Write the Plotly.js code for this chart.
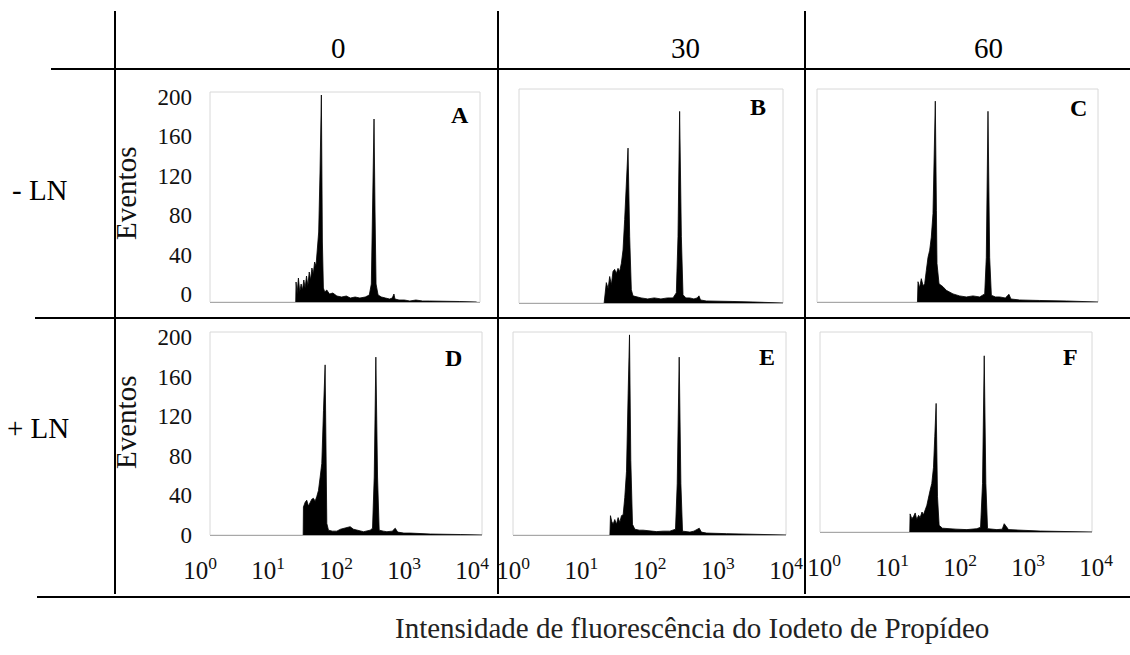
<!DOCTYPE html>
<html>
<head>
<meta charset="utf-8">
<script src="https://cdn.plot.ly/plotly-3.0.1.min.js"></script>
<style>html,body{margin:0;padding:0;background:#fff;}#chart{width:1130px;height:655px;}</style>
</head>
<body>
<div id="chart"></div>
<script>
// ---- Data (x = log10 of PI fluorescence intensity, y = events) ----
const columnLabels = ['0', '30', '60'];
const rowLabels = ['- LN', '+ LN'];
const panelLetters = ['A', 'B', 'C', 'D', 'E', 'F'];
const yTickValues = [0, 40, 80, 120, 160, 200];
const xTickValues = [1, 10, 100, 1000, 10000];
const xTickText = ['10<sup>0</sup>', '10<sup>1</sup>', '10<sup>2</sup>', '10<sup>3</sup>', '10<sup>4</sup>'];
const yTitle = 'Eventos';
const xTitle = 'Intensidade de fluorescência do Iodeto de Propídeo';

const logA = [1.27,1.275,1.29,1.31,1.33,1.35,1.37,1.39,1.41,1.43,1.45,1.47,1.49,1.51,1.53,1.55,1.57,1.59,1.61,1.63,1.65,1.665,1.68,1.70,1.73,1.77,1.82,1.88,1.95,2.02,2.08,2.15,2.22,2.30,2.36,2.39,2.41,2.43,2.445,2.46,2.49,2.54,2.60,2.66,2.70,2.725,2.74,2.80,2.88,2.96,3.05,3.15,3.25,3.45,3.70,3.95];
const evA  = [0,20,8,24,10,18,12,22,14,26,16,30,22,34,28,40,36,50,70,130,207,60,14,10,12,8,9,6,5,6,4,5,4,5,7,18,90,183,90,18,7,5,4,3,4,8,3,2,2,1,2,1,1,1,0.5,0];

const logB = [1.29,1.298,1.323,1.35,1.374,1.40,1.424,1.449,1.475,1.50,1.525,1.551,1.576,1.601,1.626,1.652,1.677,1.702,1.727,1.78,1.85,1.95,2.05,2.15,2.25,2.333,2.384,2.409,2.434,2.46,2.485,2.53,2.586,2.65,2.70,2.727,2.75,2.838,2.94,3.04,3.242,3.545,3.80,4.0];
const evB  = [0,7,20,14,26,18,31,33,29,34,31,39,52,82,124,152,65,13,7,6,5,4,5,4,5,5,10,65,188,65,8,5,5,4,5,7,3,2,2,2,1.5,1,0.5,0];

const logC = [1.43,1.438,1.46,1.485,1.51,1.533,1.556,1.58,1.604,1.627,1.651,1.67,1.684,1.70,1.708,1.737,1.794,1.841,1.936,2.03,2.126,2.22,2.316,2.387,2.41,2.434,2.458,2.482,2.54,2.60,2.68,2.733,2.76,2.885,3.03,3.17,3.549,3.80,4.0];
const evC  = [0,20,14,23,16,18,31,44,51,64,87,150,198,90,38,18,15,11.5,8,6,5,6,5,8,44,188,44,6.6,5,5,4,7.6,3,2,2,1.5,1,0.5,0];

const logD = [1.37,1.374,1.40,1.423,1.447,1.472,1.497,1.521,1.546,1.571,1.595,1.62,1.644,1.669,1.693,1.718,1.742,1.80,1.865,1.92,1.963,2.01,2.061,2.11,2.16,2.258,2.356,2.39,2.415,2.439,2.464,2.488,2.55,2.601,2.68,2.724,2.76,2.85,2.945,3.239,3.681,4.0];
const evD  = [0,29,34,36,30,33,37,38,35,40,46,60,74,129,176,12,5,4,4,6,7,8,8.6,6,5,3.4,5,7,60,184,60,5,4,3.4,4,7,3,2,2,1,0.5,0];

const logE = [1.42,1.428,1.447,1.467,1.491,1.516,1.540,1.565,1.589,1.614,1.638,1.663,1.687,1.707,1.726,1.751,1.785,1.85,1.907,2.0,2.103,2.2,2.298,2.381,2.406,2.435,2.46,2.484,2.592,2.65,2.729,2.76,2.836,3.13,3.52,4.0];
const evE  = [0,20,14,11,16,11,18,13,20,21,39,66,146,207,77,11,6,5,5,4,3.5,4,4,6,53,184,53,4,3,4,7,3,2,1.4,0.5,0];

const logF = [1.32,1.325,1.35,1.374,1.40,1.423,1.45,1.472,1.50,1.521,1.571,1.595,1.62,1.644,1.669,1.688,1.708,1.728,1.752,1.80,1.865,2.0,2.16,2.307,2.361,2.39,2.415,2.439,2.464,2.601,2.68,2.709,2.773,3.043,3.239,4.0];
const evF  = [0,19,14,16,20,13,17.5,15,21,18,28,37,44,51,68,100,135,37,7,4,3.5,3,2.5,3.5,5,51,185,51,3.5,2.5,3,8.7,2.5,1.4,1,0];

// ---- Layout helpers ----
const W = 1130, H = 655;
const PX = p => p / W;
const PY = p => 1 - p / H;
const SERIF = 'Liberation Serif';

// panel frames in pixels [left, right, top, bottom]
const frames = [
  [210, 480, 92, 302], [519, 783, 89, 303], [817, 1098, 89, 302],
  [210, 482, 332, 535], [513, 786, 332, 535], [820, 1092, 332, 532]
];
const labelShift = [0, 0, 0, -10, 0, 4];
const logs = [logA, logB, logC, logD, logE, logF];
const evs = [evA, evB, evC, evD, evE, evF];

const data = [];
const layout = {
  width: W, height: H,
  margin: {l: 0, r: 0, t: 0, b: 0},
  paper_bgcolor: '#ffffff', plot_bgcolor: '#ffffff',
  showlegend: false,
  font: {family: SERIF, color: '#111'},
  shapes: [], annotations: []
};

frames.forEach((f, i) => {
  const n = i + 1;
  const xa = n === 1 ? 'x' : 'x' + n;
  const ya = n === 1 ? 'y' : 'y' + n;
  const xk = n === 1 ? 'xaxis' : 'xaxis' + n;
  const yk = n === 1 ? 'yaxis' : 'yaxis' + n;
  data.push({
    type: 'scatter', mode: 'lines',
    x: logs[i].map(v => Math.pow(10, v)), y: evs[i],
    xaxis: xa, yaxis: ya,
    fill: 'tozeroy', fillcolor: '#000000',
    line: {color: '#000000', width: 0.8},
    hoverinfo: 'skip'
  });
  const bottomRow = i >= 3;
  layout[xk] = {
    type: 'log', range: [0, 4], domain: [PX(f[0]), PX(f[1])], anchor: ya,
    showgrid: false, zeroline: false, ticks: '',
    showline: true, linecolor: '#a8a8a8', linewidth: 1,
    showticklabels: bottomRow,
    tickmode: 'array', tickvals: xTickValues, ticktext: xTickText,
    tickfont: {family: SERIF, size: 25, color: '#111'},
    ticklabelstandoff: 13,
    ticklabelshift: labelShift[i],
    fixedrange: true
  };
  layout[yk] = {
    range: [0, 210], domain: [PY(f[3]), PY(f[2])], anchor: xa,
    showgrid: false, zeroline: false, ticks: '', showline: false,
    showticklabels: false, fixedrange: true
  };
  layout.shapes.push({
    type: 'rect', xref: xa + ' domain', yref: ya + ' domain',
    x0: 0, x1: 1, y0: 0, y1: 1, layer: 'below',
    line: {color: '#d8d8d8', width: 1}
  });
  // panel letter
  const letterPos = [[460, 115], [758, 107], [1078, 108], [453, 358], [767, 357], [1070, 357]][i];
  layout.annotations.push({
    xref: 'paper', yref: 'paper', x: PX(letterPos[0]), y: PY(letterPos[1]),
    text: '<b>' + panelLetters[i] + '</b>', showarrow: false,
    xanchor: 'center', yanchor: 'middle',
    font: {family: SERIF, size: 24, color: '#000'}
  });
});

// tick-label axes for the Eventos scale (left column), overlaying the data axes
layout.yaxis7 = {
  overlaying: 'y', anchor: 'x', side: 'left', range: [-8.1, 205.1],
  tickmode: 'array', tickvals: yTickValues, ticks: '',
  showgrid: false, zeroline: false, showline: false,
  tickfont: {family: SERIF, size: 23, color: '#111'}, ticklabelstandoff: 17, fixedrange: true
};
layout.yaxis8 = {
  overlaying: 'y4', anchor: 'x4', side: 'left', range: [0, 205],
  tickmode: 'array', tickvals: yTickValues, ticks: '',
  showgrid: false, zeroline: false, showline: false,
  tickfont: {family: SERIF, size: 23, color: '#111'}, ticklabelstandoff: 17, fixedrange: true
};
data.push({type: 'scatter', mode: 'lines', x: [null], y: [null], xaxis: 'x', yaxis: 'y7', hoverinfo: 'skip'});
data.push({type: 'scatter', mode: 'lines', x: [null], y: [null], xaxis: 'x4', yaxis: 'y8', hoverinfo: 'skip'});

// table lines
const line = (x0, y0, x1, y1) => ({
  type: 'line', xref: 'paper', yref: 'paper',
  x0: PX(x0), y0: PY(y0), x1: PX(x1), y1: PY(y1),
  line: {color: '#000', width: 2}
});
layout.shapes.push(line(115, 11, 115, 594));
layout.shapes.push(line(498, 11, 498, 594));
layout.shapes.push(line(805, 11, 805, 594));
layout.shapes.push(line(51, 69, 1130, 69));
layout.shapes.push(line(35, 318, 1130, 318));
layout.shapes.push(line(37, 597, 1130, 597));

// column headers
[[338, 48], [685, 48], [988, 48]].forEach((p, i) => {
  layout.annotations.push({
    xref: 'paper', yref: 'paper', x: PX(p[0]), y: PY(p[1]),
    text: columnLabels[i], showarrow: false, xanchor: 'center', yanchor: 'middle',
    font: {family: SERIF, size: 29, color: '#000'}
  });
});
// row labels
[[40, 190], [38, 428]].forEach((p, i) => {
  layout.annotations.push({
    xref: 'paper', yref: 'paper', x: PX(p[0]), y: PY(p[1]),
    text: rowLabels[i], showarrow: false, xanchor: 'center', yanchor: 'middle',
    font: {family: SERIF, size: 29, color: '#000'}
  });
});
// Eventos
[[126, 194], [126, 423]].forEach(p => {
  layout.annotations.push({
    xref: 'paper', yref: 'paper', x: PX(p[0]), y: PY(p[1]),
    text: yTitle, showarrow: false, textangle: -90, xanchor: 'center', yanchor: 'middle',
    font: {family: SERIF, size: 29, color: '#111'}
  });
});
// bottom title
layout.annotations.push({
  xref: 'paper', yref: 'paper', x: PX(692), y: PY(628),
  text: xTitle, showarrow: false, xanchor: 'center', yanchor: 'middle',
  font: {family: SERIF, size: 29, color: '#222'}
});

Plotly.newPlot('chart', data, layout, {staticPlot: true, displayModeBar: false});
</script>
</body>
</html>
